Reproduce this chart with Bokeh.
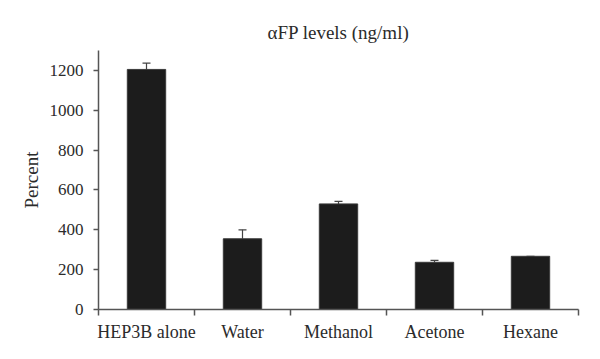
import numpy as np
from bokeh.plotting import figure
from bokeh.models import Range1d, FixedTicker, ColumnDataSource, Whisker, TeeHead
from bokeh.embed import file_html
from bokeh.resources import INLINE

categories = ["HEP3B alone", "Water", "Methanol", "Acetone", "Hexane"]
values = [1205, 355, 530, 237, 267]
errors = [32, 45, 13, 10, 0]
y_ticks = [0, 200, 400, 600, 800, 1000, 1200]

pos = np.arange(len(categories)) + 0.5
upper = [v + e for v, e in zip(values, errors)]
src = ColumnDataSource(dict(x=pos, top=values, upper=upper))

FONT = "Liberation Serif"
TXT = "#2b2b2b"
AX = "#555555"

p = figure(width=592, height=351, output_backend="svg", toolbar_location=None,
           x_range=Range1d(0, len(categories)), y_range=Range1d(0, 1300),
           min_border_left=98, min_border_right=14, min_border_top=50, min_border_bottom=42)
p.outline_line_color = None
p.grid.grid_line_color = None

p.title.text = "\u03b1FP levels (ng/ml)"
p.title.align = "center"
p.title.text_font = FONT
p.title.text_font_size = "19px"
p.title.text_font_style = "normal"
p.title.text_color = TXT
p.title.standoff = 16

p.vbar(x="x", top="top", width=0.4, bottom=0, source=src,
       fill_color="#1c1c1c", line_color="#3a3a3a", line_width=1)
p.add_layout(Whisker(source=src, base="x", lower="top", upper="upper",
                     line_color="#444444", line_width=1.2,
                     lower_head=None,
                     upper_head=TeeHead(size=8, line_color="#444444", line_width=1.2)))

xa = p.xaxis[0]
xa.ticker = FixedTicker(ticks=list(pos), minor_ticks=list(range(len(categories) + 1)))
xa.major_label_overrides = {float(x): c for x, c in zip(pos, categories)}
xa.minor_tick_line_color = AX
xa.minor_tick_out = 6
xa.minor_tick_in = 0
xa.minor_tick_line_width = 1.5
xa.major_label_standoff = 6

ya = p.yaxis[0]
ya.ticker = FixedTicker(ticks=y_ticks, minor_ticks=[])
ya.axis_label = "Percent"
ya.axis_label_text_font = FONT
ya.axis_label_text_font_size = "19px"
ya.axis_label_text_font_style = "normal"
ya.axis_label_text_color = TXT
ya.axis_label_standoff = 5
ya.major_tick_out = 5
ya.major_tick_in = 0
ya.major_label_standoff = 10

for a in (xa, ya):
    a.axis_line_color = AX
    a.axis_line_width = 1.5
    a.major_tick_line_color = AX if a is ya else None
    a.major_tick_line_width = 1.5
    a.major_label_text_font = FONT
    a.major_label_text_color = TXT
xa.major_label_text_font_size = "18px"
ya.major_label_text_font_size = "17px"

open("out.html", "w").write(file_html(p, INLINE))
